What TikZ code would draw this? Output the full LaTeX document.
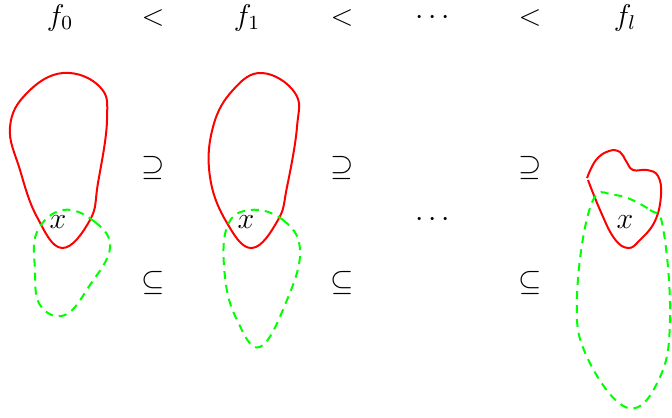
\documentclass[tikz,border=0pt]{standalone}
\usepackage{xcolor}
\usepackage{tikz}
\usepackage{amsmath}
\usepackage{amssymb}

\begin{document}
\begin{tikzpicture}[
    x=0.4pt, y=-0.4pt,
    lbl/.style={inner sep=1pt, font=\large},
    up/.style={red, thick},
    down/.style={green, thick, dash pattern=on 3.2pt off 2.4pt},
]
\useasboundingbox (0,0) rectangle (672,418);

% top row
\node[lbl] (f0) at (60,18) {$f_0$};
\node[lbl] (lt1) at (153,18) {$<$};
\node[lbl] (f1) at (247,18) {$f_1$};
\node[lbl] (lt2) at (342,18) {$<$};
\node[lbl, inner sep=0pt] (dots) at (435,18) {$\cdots$};
\node[lbl] (lt3) at (530,18) {$<$};
\node[lbl] (fl) at (625,18) {$f_l$};

% inclusions
\node[lbl] (sup1) at (153,168) {$\supseteq$};
\node[lbl] (sup2) at (342,168) {$\supseteq$};
\node[lbl] (sup3) at (530,168) {$\supseteq$};
\node[lbl] (sub1) at (153,283) {$\subseteq$};
\node[lbl] (sub2) at (342,283) {$\subseteq$};
\node[lbl] (sub3) at (530,283) {$\subseteq$};
\node[lbl] (mid) at (435,220) {$\cdots$};

% regions
\draw[up] plot[smooth cycle, tension=0.7] coordinates {(63,73) (100,87) (107,120) (98,183) (90,220) (62,248) (37,217) (20,170) (10,127) (27,93)};
\draw[down] plot[smooth cycle, tension=0.7] coordinates {(63,210) (95,222) (110,248) (90,285) (65,315) (40,305) (35,270) (37,232)};

\draw[up] plot[smooth cycle, tension=0.7] coordinates {(262,73) (295,93) (297,127) (287,187) (278,220) (252,248) (227,223) (210,177) (213,127) (233,90)};
\draw[down] plot[smooth cycle, tension=0.7] coordinates {(250,210) (283,220) (300,250) (287,300) (260,347) (237,320) (225,277) (227,227)};

\draw[up] plot[smooth, tension=0.7] coordinates {(587,178) (596,160) (609,151) (620,152) (626,161) (633,170) (647,170) (658,176) (661,195) (655,221) (640,240) (628,248) (614,238) (600,210) (588,180)};
\draw[down] plot[smooth cycle, tension=0.7] coordinates {(615,195) (650,210) (663,228) (670,317) (660,377) (628,408) (587,357) (577,297) (591,205)};

% points
\node[lbl] (x0) at (58,222) {$x$};
\node[lbl] (x1) at (246,222) {$x$};
\node[lbl] (xl) at (625,222) {$x$};
\end{tikzpicture}
\end{document}
